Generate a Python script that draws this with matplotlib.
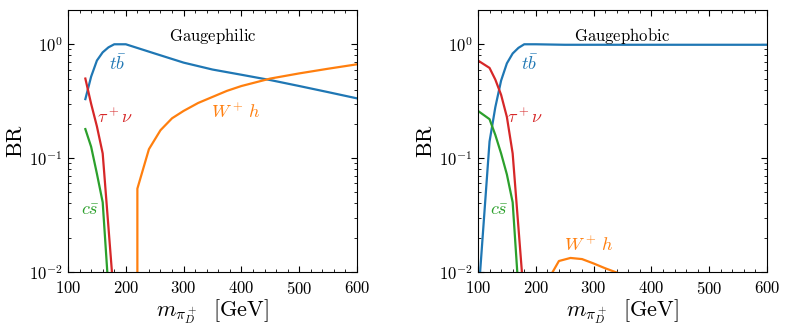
import numpy as np
import matplotlib
matplotlib.use('Agg')
import matplotlib.pyplot as plt
from matplotlib.ticker import MultipleLocator, LogLocator

plt.rcParams['font.family'] = 'serif'
plt.rcParams['font.serif'] = ['cmr10', 'DejaVu Serif']
plt.rcParams['mathtext.fontset'] = 'cm'
plt.rcParams['axes.formatter.use_mathtext'] = True

# branching ratios
# gaugephilic
m_tb_1 = [130, 140, 150, 160, 170, 180, 200, 250, 300, 350, 400, 450, 500, 550, 600]
br_tb_1 = [0.33, 0.52, 0.72, 0.85, 0.94, 1.0, 1.0, 0.83, 0.69, 0.60, 0.54, 0.485, 0.43, 0.38, 0.335]
m_tau_1 = [130, 140, 150, 160, 180]
br_tau_1 = [0.50, 0.30, 0.19, 0.11, 0.0055]
m_cs_1 = [130, 140, 150, 160, 170]
br_cs_1 = [0.18, 0.126, 0.073, 0.041, 0.007]
m_wh_1 = [220, 220, 240, 260, 280, 300, 325, 350, 375, 400, 450, 500, 550, 600]
br_wh_1 = [1e-4, 0.054, 0.12, 0.176, 0.224, 0.26, 0.305, 0.345, 0.39, 0.43, 0.50, 0.555, 0.61, 0.667]

# gaugephobic
m_tb_2 = [100, 120, 130, 140, 150, 160, 170, 180, 200, 250, 300, 400, 500, 600]
br_tb_2 = [0.0055, 0.14, 0.28, 0.48, 0.68, 0.83, 0.93, 1.0, 1.0, 0.99, 0.99, 0.99, 0.99, 0.99]
m_tau_2 = [100, 120, 130, 140, 150, 160, 180]
br_tau_2 = [0.72, 0.62, 0.49, 0.36, 0.23, 0.11, 0.0055]
m_cs_2 = [100, 120, 130, 140, 150, 160, 170]
br_cs_2 = [0.26, 0.22, 0.16, 0.11, 0.072, 0.041, 0.007]
m_wh_2 = [220, 240, 260, 280, 300, 320, 340, 360, 400]
br_wh_2 = [0.0083, 0.0125, 0.0133, 0.013, 0.0119, 0.0108, 0.0099, 0.009, 0.007]

c_tb = '#1f77b4'
c_tau = '#d62728'
c_cs = '#2ca02c'
c_wh = '#ff7f0e'

fig = plt.figure(figsize=(7.89, 3.33), dpi=100)
ax1 = fig.add_axes([0.0862, 0.183, 0.3663, 0.787])
ax2 = fig.add_axes([0.6058, 0.183, 0.3663, 0.787])

panels = [
    (ax1, 'Gaugephilic', m_tb_1, br_tb_1, m_tau_1, br_tau_1, m_cs_1, br_cs_1, m_wh_1, br_wh_1,
     [(186, 0.69), (181, 0.23), (138, 0.035), (389, 0.255)]),
    (ax2, 'Gaugephobic', m_tb_2, br_tb_2, m_tau_2, br_tau_2, m_cs_2, br_cs_2, m_wh_2, br_wh_2,
     [(189, 0.68), (181, 0.23), (136, 0.035), (291, 0.0174)]),
]

for ax, title, mt, bt, mtau, btau, mc, bc, mw, bw, pos in panels:
    ax.plot(mt, bt, color=c_tb, lw=1.6)
    ax.plot(mtau, btau, color=c_tau, lw=1.6)
    ax.plot(mc, bc, color=c_cs, lw=1.6)
    ax.plot(mw, bw, color=c_wh, lw=1.6)
    ax.set_yscale('log')
    ax.set_xlim(100, 600)
    ax.set_ylim(0.01, 2)
    ax.xaxis.set_major_locator(MultipleLocator(100))
    ax.xaxis.set_minor_locator(MultipleLocator(20))
    ax.yaxis.set_minor_locator(LogLocator(base=10, subs=np.arange(2, 10)))
    ax.tick_params(which='both', direction='in', top=True, right=True, labelsize=12)
    ax.tick_params(which='major', length=4.5, width=0.8)
    ax.tick_params(which='minor', length=2.5, width=0.6)
    ax.tick_params(axis='y', pad=4)
    ax.tick_params(axis='x', pad=6)
    ax.set_xlabel(r'$m_{\pi_D^+}\ \ [\mathrm{GeV}]$', fontsize=16, labelpad=0)
    ax.set_ylabel(r'$\mathrm{BR}$', fontsize=16, labelpad=2)
    ax.text(0.5, 0.9, r'$\mathrm{%s}$' % title, transform=ax.transAxes,
            ha='center', va='center', fontsize=12)
    ax.text(pos[0][0], pos[0][1], r'$t\bar{b}$', color=c_tb, fontsize=13, ha='center', va='center')
    ax.text(pos[1][0], pos[1][1], r'$\tau^+\nu$', color=c_tau, fontsize=13, ha='center', va='center')
    ax.text(pos[2][0], pos[2][1], r'$c\bar{s}$', color=c_cs, fontsize=13, ha='center', va='center')
    ax.text(pos[3][0], pos[3][1], r'$W^+\,h$', color=c_wh, fontsize=13, ha='center', va='center')

plt.savefig('out.png', dpi=100)
